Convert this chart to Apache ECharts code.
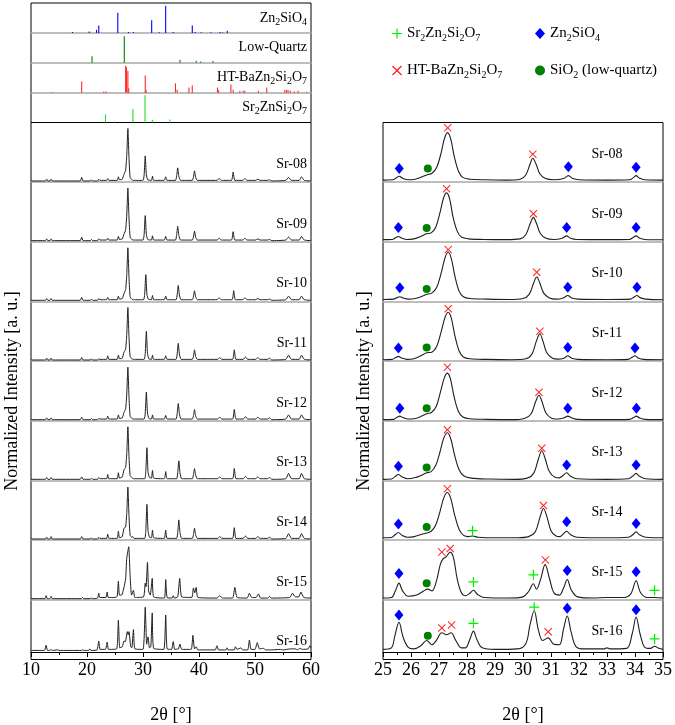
<!DOCTYPE html>
<html>
<head>
<meta charset="utf-8">
<script src="https://cdn.jsdelivr.net/npm/echarts@6/dist/echarts.min.js"></script>
<style>
html, body { margin: 0; padding: 0; background: #fff; }
#main { width: 675px; height: 725px; }
</style>
</head>
<body>
<div id="main"></div>
<script>
// sample names, top to bottom
var samples = ['Sr-08', 'Sr-09', 'Sr-10', 'Sr-11', 'Sr-12', 'Sr-13', 'Sr-14', 'Sr-15', 'Sr-16'];

// reference stick patterns: [2theta, rel. intensity] pairs (flat)
var stickZn2SiO4 = [17.4,.03, 20.4,.05, 21.7,.1, 22.1,.25, 25.5,.67, 27.4,.03, 28.3,.03, 31.55,.42, 32.9,.02,
  34.05,.91, 35.4,.03, 38.8,.25, 39.3,.03, 40.4,.02, 42.1,.02, 43.75,.03, 44.2,.02, 45.05,.07];
var stickQuartz = [20.9,.22, 26.66,.89, 36.6,.1, 39.5,.07, 40.3,.04, 42.5,.06];
var stickHT = [13.7,.02, 19.05,.37, 23.0,.04, 23.4,.04, 26.9,.9, 27.05,.85, 27.3,.72, 27.45,.15, 30.4,.57, 30.55,.1,
  35.8,.31, 36.1,.1, 38.2,.17, 38.8,.24, 43.3,.17, 43.5,.08, 45.7,.27, 46.1,.1, 47.3,.06, 47.9,.06, 48.2,.06,
  50.6,.06, 52.1,.17, 55.3,.08, 55.6,.1, 55.9,.09, 56.3,.07, 57.0,.05, 57.7,.06, 59.2,.03];
var stickSr2ZnSi2O7 = [23.3,.27, 24.9,.03, 28.2,.45, 30.36,.91, 31.67,.09, 34.8,.1];

// full range patterns 10-60 deg (flat x,y pairs, y relative to panel height)
var L08 = [10,.02, 12.6,.02, 12.8,.05, 13.0,.02, 13.4,.02, 13.6,.05, 13.8,.02, 18.8,.02, 19.05,.08, 19.3,.02,
  20.6,.02, 20.8,.04, 21.0,.02, 21.9,.02, 22.1,.05, 22.3,.03, 23.5,.03, 23.7,.06, 23.9,.03, 25.4,.03, 25.6,.09, 25.8,.04,
  26.3,.05, 26.6,.13, 26.9,.2, 27.1,.45, 27.3,.9, 27.5,.4, 27.7,.08, 28.0,.04, 28.3,.03, 30.0,.03, 30.2,.12, 30.4,.44,
  30.6,.12, 30.85,.04, 31.5,.03, 31.7,.1, 31.9,.03, 33.8,.03, 34.05,.09, 34.3,.03, 35.8,.03, 36.0,.1, 36.2,.24, 36.4,.1,
  36.7,.03, 38.8,.03, 39.0,.08, 39.2,.19, 39.4,.08, 39.7,.03, 43.2,.03, 43.6,.06, 44.0,.03, 45.8,.03, 46.1,.17, 46.4,.03,
  47.8,.03, 48.2,.06, 48.6,.03, 50.1,.03, 50.5,.05, 50.9,.03, 52.2,.03, 52.6,.04, 53.0,.02, 55.5,.03, 56.0,.08, 56.5,.03,
  57.9,.03, 58.3,.09, 58.8,.03, 60,.02];
var L09 = [10,.02, 12.6,.02, 12.8,.05, 13.0,.02, 13.4,.02, 13.6,.05, 13.8,.02, 18.8,.02, 19.05,.08, 19.3,.02,
  20.6,.02, 20.8,.04, 21.0,.02, 21.9,.02, 22.1,.05, 22.3,.03, 23.5,.03, 23.7,.06, 23.9,.03, 25.4,.03, 25.6,.09, 25.8,.04,
  26.3,.05, 26.6,.13, 26.9,.2, 27.1,.45, 27.3,.9, 27.5,.4, 27.7,.08, 28.0,.04, 28.3,.03, 30.0,.03, 30.2,.12, 30.4,.44,
  30.6,.12, 30.85,.04, 31.5,.03, 31.7,.1, 31.9,.03, 33.8,.03, 34.05,.09, 34.3,.03, 35.8,.03, 36.0,.11, 36.2,.26, 36.4,.11,
  36.7,.03, 38.8,.03, 39.0,.08, 39.2,.18, 39.4,.08, 39.7,.03, 43.2,.03, 43.6,.06, 44.0,.03, 45.8,.03, 46.1,.17, 46.4,.03,
  47.8,.03, 48.2,.06, 48.6,.03, 50.1,.03, 50.5,.05, 50.9,.03, 52.2,.03, 52.6,.04, 53.0,.02, 55.5,.03, 56.0,.08, 56.5,.03,
  57.9,.03, 58.3,.09, 58.8,.03, 60,.02];
var L10 = [10,.02, 12.6,.02, 12.8,.05, 13.0,.02, 13.4,.02, 13.6,.05, 13.8,.02, 18.8,.02, 19.05,.07, 19.3,.02,
  20.6,.02, 20.8,.04, 21.0,.02, 21.9,.02, 22.1,.05, 22.3,.03, 23.5,.03, 23.7,.07, 23.9,.03, 25.4,.03, 25.6,.09, 25.8,.04,
  26.3,.05, 26.6,.13, 26.9,.2, 27.1,.45, 27.3,.9, 27.5,.4, 27.7,.08, 28.0,.04, 28.3,.03, 30.1,.03, 30.3,.12, 30.5,.45,
  30.7,.12, 30.95,.04, 31.5,.03, 31.7,.1, 31.9,.03, 33.8,.03, 34.05,.09, 34.3,.03, 35.9,.03, 36.1,.11, 36.3,.27, 36.5,.11,
  36.8,.03, 38.8,.03, 39.0,.08, 39.2,.18, 39.4,.08, 39.7,.03, 43.2,.03, 43.6,.06, 44.0,.03, 45.9,.03, 46.2,.18, 46.5,.03,
  47.8,.03, 48.2,.06, 48.6,.03, 50.1,.03, 50.5,.05, 50.9,.03, 52.2,.03, 52.6,.04, 53.0,.02, 55.5,.03, 56.0,.09, 56.5,.03,
  57.9,.03, 58.3,.09, 58.8,.03, 60,.02];
var L11 = [10,.02, 12.6,.02, 12.8,.05, 13.0,.02, 13.4,.02, 13.6,.05, 13.8,.02, 18.8,.02, 19.05,.06, 19.3,.02,
  20.6,.02, 20.8,.04, 21.0,.02, 21.9,.02, 22.1,.04, 22.3,.03, 23.5,.03, 23.7,.09, 23.9,.03, 25.4,.03, 25.6,.1, 25.8,.04,
  26.3,.05, 26.6,.15, 26.9,.2, 27.1,.45, 27.3,.9, 27.5,.4, 27.7,.08, 28.0,.04, 28.3,.03, 30.2,.03, 30.4,.13, 30.6,.5,
  30.8,.13, 31.05,.04, 31.5,.03, 31.7,.1, 31.9,.03, 33.8,.03, 34.05,.09, 34.3,.03, 35.9,.03, 36.1,.12, 36.3,.3, 36.5,.12,
  36.8,.03, 38.8,.03, 39.0,.08, 39.2,.19, 39.4,.08, 39.7,.03, 43.3,.03, 43.7,.06, 44.1,.03, 46.0,.03, 46.3,.19, 46.6,.03,
  47.9,.03, 48.3,.07, 48.7,.03, 50.1,.03, 50.5,.06, 50.9,.03, 52.2,.03, 52.6,.05, 53.0,.02, 55.5,.03, 56.0,.1, 56.5,.03,
  57.9,.03, 58.3,.1, 58.8,.03, 60,.02];
var L12 = [10,.02, 12.6,.02, 12.8,.05, 13.0,.02, 13.4,.02, 13.6,.05, 13.8,.02, 18.8,.02, 19.05,.06, 19.3,.02,
  20.6,.02, 20.8,.04, 21.0,.02, 21.9,.02, 22.1,.04, 22.3,.03, 23.5,.03, 23.7,.08, 23.9,.03, 25.4,.03, 25.6,.1, 25.8,.04,
  26.3,.05, 26.6,.14, 26.9,.2, 27.1,.45, 27.3,.9, 27.5,.4, 27.7,.08, 28.0,.04, 28.3,.03, 30.2,.03, 30.4,.13, 30.6,.48,
  30.8,.13, 31.05,.04, 31.5,.03, 31.7,.1, 31.9,.03, 33.8,.03, 34.05,.09, 34.3,.03, 35.9,.03, 36.1,.12, 36.3,.29, 36.5,.12,
  36.8,.03, 38.8,.03, 39.0,.08, 39.2,.19, 39.4,.08, 39.7,.03, 43.3,.03, 43.7,.06, 44.1,.03, 46.0,.03, 46.3,.19, 46.6,.03,
  47.9,.03, 48.3,.07, 48.7,.03, 50.1,.03, 50.5,.06, 50.9,.03, 52.2,.03, 52.6,.05, 53.0,.02, 55.5,.03, 56.0,.1, 56.5,.03,
  57.9,.03, 58.3,.1, 58.8,.03, 60,.02];
var L13 = [10,.02, 12.6,.02, 12.8,.05, 13.0,.02, 13.4,.02, 13.6,.05, 13.8,.02, 18.8,.02, 19.05,.06, 19.3,.02,
  20.6,.02, 20.8,.04, 21.0,.02, 21.9,.02, 22.1,.05, 22.3,.03, 23.5,.03, 23.7,.1, 23.9,.03, 25.4,.03, 25.6,.13, 25.8,.04,
  26.3,.06, 26.6,.18, 26.9,.22, 27.1,.45, 27.3,.9, 27.5,.4, 27.7,.08, 28.0,.05, 28.3,.03, 30.3,.03, 30.5,.15, 30.7,.55,
  30.9,.14, 31.15,.05, 31.5,.04, 31.7,.17, 31.9,.04, 33.8,.03, 34.05,.15, 34.3,.03, 36.0,.03, 36.2,.13, 36.4,.33, 36.6,.13,
  36.9,.03, 38.8,.03, 39.0,.09, 39.2,.2, 39.4,.09, 39.7,.03, 43.3,.03, 43.7,.06, 44.1,.03, 46.0,.03, 46.3,.2, 46.6,.03,
  47.9,.03, 48.3,.07, 48.7,.03, 50.1,.03, 50.5,.06, 50.9,.03, 52.2,.03, 52.6,.05, 53.0,.02, 55.5,.03, 56.0,.12, 56.5,.03,
  57.9,.03, 58.3,.12, 58.8,.03, 60,.02];
var L14 = [10,.02, 12.6,.02, 12.8,.05, 13.0,.02, 13.4,.02, 13.6,.06, 13.8,.02, 18.8,.02, 19.05,.06, 19.3,.02,
  20.6,.02, 20.8,.04, 21.0,.02, 21.9,.02, 22.1,.05, 22.3,.03, 23.5,.03, 23.7,.1, 23.9,.03, 25.4,.03, 25.6,.15, 25.8,.04,
  26.3,.06, 26.6,.2, 26.9,.22, 27.1,.45, 27.3,.89, 27.5,.4, 27.7,.08, 28.0,.05, 28.2,.06, 28.4,.03, 30.3,.03, 30.5,.16,
  30.7,.6, 30.9,.15, 31.15,.05, 31.5,.04, 31.7,.17, 31.9,.04, 33.8,.03, 34.05,.17, 34.3,.03, 36.0,.03, 36.2,.13, 36.4,.34,
  36.6,.13, 36.9,.03, 38.8,.03, 39.0,.09, 39.2,.2, 39.4,.09, 39.7,.03, 43.3,.03, 43.7,.06, 44.1,.03, 46.0,.03, 46.3,.21,
  46.6,.03, 47.9,.03, 48.3,.07, 48.7,.03, 50.1,.03, 50.5,.06, 50.9,.03, 52.2,.03, 52.6,.05, 53.0,.02, 55.5,.03, 56.0,.11,
  56.5,.03, 57.9,.03, 58.3,.11, 58.8,.03, 60,.02];
var L15 = [10,.02, 12.5,.02, 12.7,.07, 12.9,.02, 13.4,.02, 13.6,.06, 13.8,.02, 19.0,.02, 19.2,.04, 19.4,.02,
  20.6,.02, 20.8,.03, 21.0,.02, 21.9,.03, 22.1,.11, 22.3,.04, 23.4,.04, 23.6,.13, 23.8,.04, 25.0,.04, 25.4,.06, 25.6,.31,
  25.8,.08, 26.2,.08, 26.6,.21, 26.9,.35, 27.1,.7, 27.45,.89, 27.7,.4, 27.95,.08, 28.3,.16, 28.55,.04, 30.1,.05, 30.4,.28,
  30.55,.22, 30.8,.63, 31.0,.15, 31.3,.08, 31.65,.36, 31.9,.05, 33.8,.03, 34.05,.34, 34.3,.04, 35.2,.03, 35.4,.07, 35.6,.03,
  36.2,.05, 36.55,.36, 36.9,.05, 38.7,.04, 39.0,.2, 39.25,.12, 39.5,.21, 39.8,.04, 43.2,.03, 43.7,.07, 44.2,.03, 46.0,.03,
  46.4,.21, 46.8,.04, 48.6,.03, 49.0,.11, 49.4,.04, 50.2,.04, 50.6,.1, 51.0,.03, 52.3,.03, 52.6,.06, 52.9,.03, 56.2,.04,
  56.7,.11, 57.2,.05, 57.8,.05, 58.2,.13, 58.7,.04, 60,.03];
var L16 = [10,.03, 12.4,.03, 12.7,.13, 12.95,.03, 13.4,.03, 13.6,.05, 13.8,.03, 14.8,.04, 15.0,.03, 19.0,.03, 19.2,.04,
  19.4,.03, 20.3,.03, 20.5,.06, 20.7,.03, 21.8,.04, 22.1,.21, 22.35,.05, 23.3,.05, 23.6,.19, 23.85,.05, 25.3,.06, 25.6,.61,
  25.85,.08, 26.3,.1, 26.6,.21, 26.85,.2, 27.2,.39, 27.35,.33, 27.5,.39, 27.8,.1, 28.0,.08, 28.3,.43, 28.55,.06, 30.0,.05,
  30.4,.86, 30.65,.15, 30.9,.29, 31.15,.08, 31.4,.1, 31.65,.75, 31.9,.07, 33.7,.05, 34.05,.71, 34.3,.06, 35.1,.05, 35.4,.2,
  35.65,.05, 36.3,.06, 36.6,.15, 36.9,.05, 38.6,.05, 38.9,.32, 39.2,.06, 39.5,.1, 39.8,.04, 42.9,.04, 43.2,.12, 43.5,.04,
  44.8,.04, 45.0,.08, 45.2,.04, 46.3,.04, 46.5,.1, 46.8,.05, 47.5,.08, 47.8,.04, 48.7,.04, 49.0,.23, 49.3,.05, 50.0,.05,
  50.4,.18, 50.8,.06, 51.5,.07, 51.9,.04, 53.0,.04, 54.5,.05, 55.0,.04, 56.3,.06, 57.2,.06, 57.6,.04, 58.0,.07, 58.5,.05,
  59.5,.06, 59.8,.12, 60,.08];

// zoomed patterns 25-35 deg
var R08 = [25,.035, 25.35,.04, 25.48,.075, 25.58,.1, 25.7,.065, 25.9,.04, 26.15,.05, 26.4,.09, 26.58,.125, 26.75,.15,
  26.92,.25, 27.08,.5, 27.2,.74, 27.31,.83, 27.42,.72, 27.55,.42, 27.7,.18, 27.85,.08, 28.1,.05, 28.6,.04, 29.4,.035,
  29.9,.05, 30.1,.12, 30.25,.3, 30.35,.4, 30.46,.31, 30.6,.14, 30.8,.06, 31.1,.04, 31.45,.06, 31.62,.11, 31.78,.06,
  32.0,.04, 33.0,.035, 33.8,.04, 33.95,.08, 34.04,.11, 34.15,.07, 34.35,.04, 35,.035];
var R09 = [25,.037, 25.33,.04, 25.45,.07, 25.55,.09, 25.66,.065, 25.85,.04, 26.1,.05, 26.35,.09, 26.55,.135, 26.72,.15,
  26.88,.24, 27.03,.48, 27.16,.73, 27.27,.82, 27.38,.72, 27.5,.42, 27.65,.18, 27.8,.08, 28.05,.05, 28.6,.04, 29.4,.037,
  29.9,.05, 30.1,.12, 30.26,.31, 30.37,.41, 30.48,.31, 30.62,.14, 30.82,.06, 31.1,.04, 31.4,.06, 31.56,.1, 31.7,.06,
  31.92,.04, 33.0,.037, 33.8,.04, 33.94,.075, 34.04,.1, 34.15,.065, 34.35,.04, 35,.035];
var R10 = [25,.034, 25.38,.04, 25.5,.065, 25.6,.08, 25.71,.06, 25.9,.04, 26.15,.05, 26.38,.085, 26.56,.12, 26.74,.14,
  26.92,.24, 27.08,.48, 27.22,.74, 27.33,.83, 27.44,.72, 27.57,.42, 27.72,.17, 27.87,.08, 28.1,.05, 28.7,.04, 29.5,.034,
  30.0,.05, 30.22,.12, 30.38,.31, 30.49,.41, 30.6,.31, 30.74,.14, 30.94,.06, 31.2,.04, 31.44,.06, 31.6,.1, 31.74,.06,
  31.96,.04, 33.0,.034, 33.83,.04, 33.97,.075, 34.07,.1, 34.18,.065, 34.38,.04, 35,.03];
var R11 = [25,.025, 25.33,.03, 25.45,.06, 25.55,.08, 25.66,.055, 25.85,.03, 26.1,.04, 26.35,.09, 26.56,.14, 26.74,.15,
  26.92,.25, 27.08,.5, 27.22,.74, 27.33,.82, 27.44,.72, 27.57,.42, 27.72,.17, 27.87,.07, 28.1,.04, 28.7,.03, 29.6,.025,
  30.1,.04, 30.32,.12, 30.48,.34, 30.6,.46, 30.71,.34, 30.85,.14, 31.05,.05, 31.25,.035, 31.46,.05, 31.6,.09, 31.74,.05,
  31.96,.03, 33.0,.025, 33.76,.03, 33.9,.065, 34.0,.09, 34.11,.055, 34.3,.03, 35,.025];
var R12 = [25,.02, 25.38,.025, 25.5,.06, 25.6,.08, 25.71,.055, 25.9,.03, 26.15,.04, 26.38,.08, 26.56,.12, 26.73,.14,
  26.9,.24, 27.05,.48, 27.19,.72, 27.3,.8, 27.41,.7, 27.54,.4, 27.69,.16, 27.84,.07, 28.1,.035, 28.7,.025, 29.6,.02,
  30.05,.04, 30.28,.11, 30.45,.32, 30.57,.43, 30.68,.32, 30.82,.13, 31.02,.045, 31.25,.03, 31.46,.05, 31.6,.08, 31.74,.05,
  31.96,.025, 33.0,.02, 33.81,.025, 33.95,.055, 34.05,.08, 34.16,.05, 34.36,.025, 35,.02];
var R13 = [25,.02, 25.3,.025, 25.43,.065, 25.55,.1, 25.67,.065, 25.88,.03, 26.12,.045, 26.38,.09, 26.56,.13, 26.72,.15,
  26.88,.25, 27.03,.47, 27.17,.71, 27.3,.8, 27.42,.7, 27.56,.42, 27.72,.18, 27.88,.08, 28.15,.04, 28.8,.025, 29.7,.02,
  30.15,.04, 30.38,.12, 30.55,.36, 30.67,.5, 30.79,.37, 30.94,.15, 31.14,.055, 31.3,.045, 31.42,.08, 31.56,.13, 31.7,.07,
  31.92,.03, 33.0,.02, 33.76,.03, 33.92,.075, 34.04,.12, 34.16,.07, 34.38,.03, 35,.02];
var R14 = [25,.04, 25.3,.045, 25.43,.09, 25.55,.13, 25.67,.085, 25.88,.05, 26.12,.06, 26.38,.1, 26.56,.12, 26.72,.15,
  26.88,.25, 27.03,.47, 27.17,.71, 27.3,.8, 27.42,.7, 27.56,.42, 27.72,.18, 27.88,.08, 28.05,.06, 28.2,.07, 28.4,.05,
  29.0,.04, 29.8,.04, 30.2,.06, 30.44,.14, 30.61,.39, 30.73,.53, 30.85,.4, 31.0,.16, 31.18,.07, 31.32,.06, 31.43,.1,
  31.56,.15, 31.7,.09, 31.92,.05, 33.0,.04, 33.76,.05, 33.92,.09, 34.04,.14, 34.16,.09, 34.38,.05, 35,.04];
var R15 = [25,.03, 25.3,.04, 25.45,.16, 25.57,.28, 25.7,.15, 25.9,.06, 26.2,.08, 26.45,.15, 26.6,.18, 26.75,.15,
  26.9,.3, 27.05,.6, 27.15,.69, 27.25,.72, 27.4,.8, 27.52,.7, 27.65,.35, 27.8,.12, 27.95,.07, 28.1,.11, 28.23,.16,
  28.38,.09, 28.6,.04, 29.5,.03, 30.0,.05, 30.2,.14, 30.37,.27, 30.48,.18, 30.62,.33, 30.79,.59, 30.95,.35, 31.1,.12,
  31.3,.08, 31.45,.2, 31.58,.34, 31.72,.17, 31.95,.05, 32.5,.03, 33.0,.04, 33.6,.04, 33.85,.1, 34.04,.32, 34.2,.12,
  34.45,.04, 34.7,.04, 35,.03];
var R16 = [25,.05, 25.3,.08, 25.42,.3, 25.57,.57, 25.72,.28, 25.9,.09, 26.1,.06, 26.35,.12, 26.56,.22, 26.75,.14,
  26.9,.22, 27.1,.37, 27.27,.33, 27.43,.37, 27.6,.22, 27.8,.08, 27.95,.08, 28.1,.24, 28.23,.4, 28.36,.23, 28.55,.08,
  29.0,.05, 29.8,.06, 30.1,.16, 30.25,.52, 30.4,.79, 30.55,.42, 30.7,.22, 30.9,.27, 31.1,.15, 31.3,.14, 31.45,.45,
  31.58,.69, 31.72,.38, 31.9,.1, 32.2,.06, 32.9,.06, 33.0,.08, 33.1,.06, 33.7,.07, 33.9,.35, 34.04,.67, 34.18,.35,
  34.35,.09, 34.55,.07, 34.7,.11, 34.85,.07, 35,.05];

// phase markers in zoomed panels: [type, 2theta, height]
// p = Sr2Zn2Si2O7, d = Zn2SiO4, x = HT-BaZn2Si2O7, o = SiO2
var M08 = [['d',25.58,.23], ['o',26.6,.23], ['x',27.31,.91], ['x',30.35,.47], ['d',31.62,.26], ['d',34.04,.25]];
var M09 = [['d',25.55,.24], ['o',26.56,.23], ['x',27.27,.89], ['x',30.37,.47], ['d',31.56,.24], ['d',34.04,.24]];
var M10 = [['d',25.6,.23], ['o',26.56,.21], ['x',27.33,.87], ['x',30.49,.49], ['d',31.6,.24], ['d',34.07,.24]];
var M11 = [['d',25.55,.22], ['o',26.56,.23], ['x',27.33,.88], ['x',30.6,.5], ['d',31.6,.23], ['d',34.0,.22]];
var M12 = [['d',25.6,.21], ['o',26.56,.21], ['x',27.3,.9], ['x',30.57,.48], ['d',31.6,.21], ['d',34.05,.21]];
var M13 = [['d',25.55,.24], ['o',26.56,.22], ['x',27.3,.85], ['x',30.67,.54], ['d',31.56,.26], ['d',34.04,.26]];
var M14 = [['d',25.55,.27], ['o',26.56,.22], ['x',27.3,.86], ['p',28.2,.16], ['x',30.73,.58], ['d',31.56,.31], ['d',34.04,.28]];
var M15 = [['d',25.57,.44], ['o',26.56,.28], ['x',27.1,.8], ['x',27.4,.86], ['p',28.23,.3], ['p',30.37,.42], ['x',30.8,.67],
  ['d',31.58,.49], ['d',34.04,.47], ['p',34.7,.16]];
var M16 = [['d',25.57,.71], ['o',26.6,.31], ['x',27.1,.46], ['x',27.45,.52], ['p',28.23,.55], ['p',30.4,.86], ['x',30.9,.39],
  ['d',31.58,.84], ['d',34.04,.81], ['p',34.7,.25]];

var leftCurves = [L08, L09, L10, L11, L12, L13, L14, L15, L16];
var rightCurves = [R08, R09, R10, R11, R12, R13, R14, R15, R16];
var markerSets = [M08, M09, M10, M11, M12, M13, M14, M15, M16];

var FONT = '"Liberation Serif", "Times New Roman", serif';
var PLUS = 'path://M4.4,0H5.6V4.4H10V5.6H5.6V10H4.4V5.6H0V4.4H4.4Z';
var CROSS = 'path://M0,0.9L0.9,0L5,4.1L9.1,0L10,0.9L5.9,5L10,9.1L9.1,10L5,5.9L0.9,10L0,9.1L4.1,5Z';

var markerTypes = {
  p: { name: 'Sr2Zn2Si2O7', symbol: PLUS, size: 10, color: '#00ee00' },
  d: { name: 'Zn2SiO4', symbol: 'diamond', size: [9, 11], color: '#0000ff' },
  x: { name: 'HT-BaZn2Si2O7', symbol: CROSS, size: 8, color: '#ff2020' },
  o: { name: 'SiO2 (low-quartz)', symbol: 'circle', size: 8, color: '#008000' }
};
var richNames = {
  'Sr2Zn2Si2O7': '{n|Sr}{s|2}{n|Zn}{s|2}{n|Si}{s|2}{n|O}{s|7}',
  'Zn2SiO4': '{n|Zn}{s|2}{n|SiO}{s|4}',
  'HT-BaZn2Si2O7': '{n|HT-BaZn}{s|2}{n|Si}{s|2}{n|O}{s|7}',
  'SiO2 (low-quartz)': '{n|SiO}{s|2}{n| (low-quartz)}',
  'Low-Quartz': '{n|Low-Quartz}',
  'Sr2ZnSi2O7': '{n|Sr}{s|2}{n|ZnSi}{s|2}{n|O}{s|7}'
};
function richFor(size, key) {
  var r = {};
  r.n = { fontSize: size, fontFamily: FONT, lineHeight: size + 4, verticalAlign: 'middle' };
  r.s = { fontSize: Math.round(size * 0.68), fontFamily: FONT, lineHeight: 8, verticalAlign: 'bottom' };
  r.n[key] = '#000'; r.s[key] = '#000';
  return r;
}

function pairs(a) {
  var out = [];
  for (var i = 0; i < a.length; i += 2) out.push([a[i], a[i + 1]]);
  return out;
}

// layout
var LEFT_X = 31, RIGHT_X = 383, W = 280;
var STICK_TOP = 3, STICK_H = 29.875;
var MAIN_TOP = 122.5, PANEL_H = 59.67;

var grids = [], xAxes = [], yAxes = [], series = [], graphics = [];

function addPanel(left, top, height, xmin, xmax, step, mode) {
  var gi = grids.length;
  var isBottom = mode === 'bottom';
  grids.push({ left: left, top: top, width: W, height: height });
  xAxes.push({
    type: 'value', gridIndex: gi, min: xmin, max: xmax, interval: step,
    axisLine: { show: mode !== 'none', onZero: false,
      lineStyle: { color: isBottom ? '#000' : '#a8a8a8', width: isBottom ? 1 : 1.6 } },
    axisTick: { show: isBottom, length: 5, lineStyle: { color: '#000' } },
    minorTick: { show: isBottom, splitNumber: 2, length: 3, lineStyle: { color: '#000' } },
    axisLabel: { show: isBottom, color: '#000', fontSize: 18, fontFamily: FONT, margin: 9 },
    splitLine: { show: false },
    name: isBottom ? '2θ [°]' : '', nameLocation: 'middle', nameGap: 54,
    nameTextStyle: { color: '#000', fontSize: 18, fontFamily: FONT }
  });
  yAxes.push({ type: 'value', gridIndex: gi, min: 0, max: 1, show: false });
  return gi;
}

function addFrame(left, top, height, yName) {
  var gi = grids.length;
  grids.push({ left: left, top: top, width: W, height: height, show: true,
    borderColor: '#000', borderWidth: 1, backgroundColor: 'transparent' });
  xAxes.push({ type: 'value', gridIndex: gi, min: 0, max: 1, show: false });
  yAxes.push({
    type: 'value', gridIndex: gi, min: 0, max: 1, show: !!yName,
    axisLine: { show: false }, axisTick: { show: false }, axisLabel: { show: false }, splitLine: { show: false },
    name: yName || '', nameLocation: 'middle', nameGap: 10,
    nameTextStyle: { color: '#000', fontSize: 18, fontFamily: FONT }
  });
}

// stick reference panels
var sticks = [
  { name: 'Zn2SiO4', data: stickZn2SiO4, color: '#0000ff' },
  { name: 'Low-Quartz', data: stickQuartz, color: '#008000' },
  { name: 'HT-BaZn2Si2O7', data: stickHT, color: '#ff2a2a' },
  { name: 'Sr2ZnSi2O7', data: stickSr2ZnSi2O7, color: '#22e022' }
];
sticks.forEach(function (st, i) {
  var top = STICK_TOP + i * STICK_H;
  var gi = addPanel(LEFT_X, top, STICK_H, 10, 60, 10, i === sticks.length - 1 ? 'none' : 'sep');
  var col = st.color;
  series.push({
    type: 'custom', xAxisIndex: gi, yAxisIndex: gi, data: pairs(st.data), silent: true,
    renderItem: function (params, api) {
      var a = api.coord([api.value(0), 0]);
      var b = api.coord([api.value(0), api.value(1)]);
      return { type: 'line', shape: { x1: a[0], y1: a[1], x2: b[0], y2: b[1] },
        style: { stroke: col, lineWidth: 1.1 } };
    }
  });
  graphics.push({ type: 'text', x: 307, y: top + STICK_H - 15,
    style: { text: richNames[st.name], rich: richFor(14, 'fill'), fill: '#000',
      align: 'right', verticalAlign: 'middle', textAlign: 'right', textVerticalAlign: 'middle' } });
});

// sample panels
samples.forEach(function (name, i) {
  var top = MAIN_TOP + i * PANEL_H;
  var last = i === samples.length - 1;
  var gl = addPanel(LEFT_X, top, PANEL_H, 10, 60, 10, last ? 'bottom' : 'sep');
  series.push({ type: 'line', xAxisIndex: gl, yAxisIndex: gl, data: pairs(leftCurves[i]),
    symbol: 'none', smooth: 0.15, silent: true, lineStyle: { color: '#1e1e1e', width: 1 } });

  var gr = addPanel(RIGHT_X, top, PANEL_H, 25, 35, 1, last ? 'bottom' : 'sep');
  series.push({ type: 'line', xAxisIndex: gr, yAxisIndex: gr, data: pairs(rightCurves[i]),
    symbol: 'none', smooth: 0.35, silent: true, lineStyle: { color: '#1e1e1e', width: 1.1 } });

  ['p', 'd', 'x', 'o'].forEach(function (t) {
    var mt = markerTypes[t];
    var pts = markerSets[i].filter(function (m) { return m[0] === t; })
      .map(function (m) { return [m[1], m[2]]; });
    if (!pts.length) return;
    series.push({ type: 'scatter', name: mt.name, xAxisIndex: gr, yAxisIndex: gr, data: pts,
      symbol: mt.symbol, symbolSize: mt.size, silent: true, z: 4,
      itemStyle: { color: mt.color, opacity: 1 } });
  });

  var bottom = top + PANEL_H;
  graphics.push({ type: 'text', x: 307, y: bottom - 18,
    style: { text: name, font: '14px ' + FONT, fill: '#000',
      align: 'right', verticalAlign: 'middle', textAlign: 'right', textVerticalAlign: 'middle' } });
  graphics.push({ type: 'text', x: 607, y: bottom - 28,
    style: { text: name, font: '14px ' + FONT, fill: '#000',
      align: 'center', verticalAlign: 'middle', textAlign: 'center', textVerticalAlign: 'middle' } });
});

// outer boxes
addFrame(LEFT_X, STICK_TOP, STICK_H * 4, '');
addFrame(LEFT_X, MAIN_TOP, PANEL_H * 9, 'Normalized Intensity [a. u.]');
addFrame(RIGHT_X, MAIN_TOP, PANEL_H * 9, 'Normalized Intensity [a. u.]');

function legendCol(left, keys) {
  return {
    left: left, top: 21, orient: 'vertical', itemGap: 20, itemWidth: 10, itemHeight: 11,
    selectedMode: false,
    data: keys.map(function (k) { return { name: markerTypes[k].name, icon: markerTypes[k].symbol }; }),
    formatter: function (n) { return richNames[n]; },
    textStyle: { color: '#000', fontSize: 15, fontFamily: FONT, rich: richFor(15, 'color') }
  };
}

var chart = echarts.init(document.getElementById('main'));
var option = {
  animation: false,
  backgroundColor: '#fff',
  legend: [legendCol(387, ['p', 'x']), legendCol(530, ['d', 'o'])],
  grid: grids,
  xAxis: xAxes,
  yAxis: yAxes,
  series: series,
  graphic: { elements: graphics }
};
chart.setOption(option);
</script>
</body>
</html>
